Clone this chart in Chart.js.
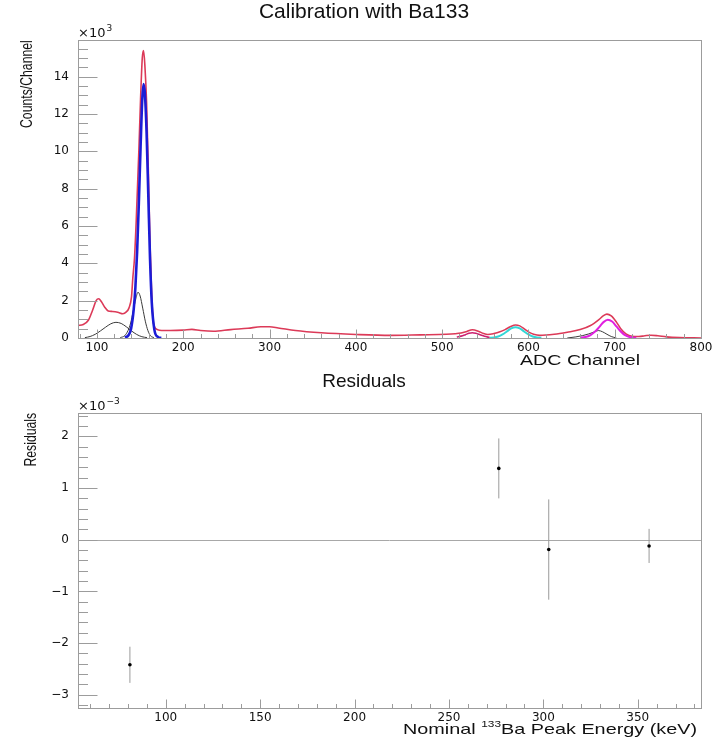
<!DOCTYPE html>
<html><head><meta charset="utf-8">
<script src="https://cdn.jsdelivr.net/npm/chart.js@4/dist/chart.umd.min.js"></script>
<style>
html,body{margin:0;padding:0;background:#fff;}
#wrap{position:relative;width:728px;height:742px;overflow:hidden;background:#fff;}
canvas{position:absolute;left:0;}
</style></head><body>
<div id="wrap">
<canvas id="top" width="728" height="372" style="top:0px"></canvas>
<canvas id="bot" width="728" height="376" style="top:366px"></canvas>
</div>
<script>
// ---------- DATA (counts in units of 10^3) ----------
const xTicksTop = [100, 200, 300, 400, 500, 600, 700, 800];
const yTicksTop = [0, 2, 4, 6, 8, 10, 12, 14];
const xTicksRes = [100, 150, 200, 250, 300, 350];
const yTicksRes = [-3, -2, -1, 0, 1, 2];

// measured spectrum (Counts/Channel, x10^3)
const specX = [78, 84, 90, 95, 99, 102, 105, 109, 113, 118, 124, 130, 134, 137, 140, 141.5, 143.5, 145.5, 148.5, 150.5, 152.5, 154, 155.5, 157.5, 159.5, 161.5, 163.5, 165.5, 170, 175, 185, 200, 210, 220, 235, 255, 275, 290, 300, 310, 330, 360, 400, 440, 475, 505, 515, 522, 528, 535, 542, 548, 553, 560, 567, 573, 579, 585, 590, 596, 601, 606, 613, 630, 645, 660, 672, 682, 687, 691, 696, 702, 707, 713, 720, 728, 735, 742, 750, 760, 775, 800];
const specY = [0.67, 0.72, 0.95, 1.5, 2.0, 2.1, 1.95, 1.65, 1.45, 1.42, 1.38, 1.3, 1.4, 1.6, 2.2, 3.2, 4.3, 6.3, 10.0, 12.8, 15.0, 15.4, 14.6, 12.6, 9.0, 5.0, 2.2, 0.8, 0.45, 0.4, 0.4, 0.42, 0.46, 0.4, 0.36, 0.45, 0.52, 0.6, 0.6, 0.54, 0.4, 0.28, 0.19, 0.14, 0.17, 0.2, 0.23, 0.27, 0.34, 0.44, 0.36, 0.24, 0.19, 0.24, 0.33, 0.45, 0.6, 0.7, 0.65, 0.46, 0.3, 0.2, 0.14, 0.2, 0.31, 0.45, 0.67, 1.0, 1.2, 1.28, 1.18, 0.85, 0.5, 0.22, 0.09, 0.08, 0.12, 0.15, 0.12, 0.06, 0.02, 0.0];

// fitted components
const broadX = [86, 92, 98, 104, 110, 116, 122, 128, 134, 140, 146, 152, 158];
const broadY = [0.02, 0.08, 0.2, 0.38, 0.58, 0.76, 0.84, 0.78, 0.6, 0.38, 0.19, 0.07, 0.02];
const narrowX = [127, 132, 136, 139, 142, 145, 147.5, 150, 153, 156, 159, 162, 166];
const narrowY = [0.02, 0.12, 0.4, 0.8, 1.45, 2.1, 2.45, 2.25, 1.6, 0.9, 0.4, 0.12, 0.02];
const mainX = [132.5, 136.5, 139.5, 142.5, 144.5, 146.5, 148.5, 150.5, 152.5, 154, 155.5, 157.5, 159.5, 161.5, 163.5, 166.5, 170.5, 174.5];
const mainY = [0.02, 0.15, 0.5, 1.5, 2.7, 4.6, 7.2, 10.2, 12.8, 13.6, 13.1, 11.0, 7.6, 4.2, 1.9, 0.45, 0.06, 0.0];
const p535X = [517, 522, 527, 531, 535, 539, 544, 549, 555];
const p535Y = [0.05, 0.1, 0.18, 0.25, 0.28, 0.25, 0.17, 0.09, 0.03];
const p585X = [555, 560, 565, 570, 575, 580, 585, 590, 595, 600, 605, 610, 615];
const p585Y = [0.01, 0.025, 0.08, 0.19, 0.35, 0.51, 0.58, 0.51, 0.35, 0.19, 0.08, 0.025, 0.01];
const p692X = [660, 666, 672, 677, 682, 687, 692, 697, 702, 707, 712, 718, 725];
const p692Y = [0.01, 0.05, 0.16, 0.33, 0.58, 0.85, 0.98, 0.88, 0.62, 0.35, 0.15, 0.04, 0.01];
const p681X = [645, 655, 663, 670, 676, 681, 686, 691, 696, 702];
const p681Y = [0.0, 0.06, 0.13, 0.22, 0.32, 0.4, 0.33, 0.2, 0.08, 0.0];

// residuals (x10^-3)
const resEnergy = [81.0, 276.4, 302.85, 356.0];
const resValue = [-2.42, 1.38, -0.19, -0.12];
const resError = [0.35, 0.58, 0.97, 0.33];

// ---------- helpers ----------
const FONT = '"Liberation Sans", Arial, Helvetica, sans-serif';
const TFONT = '"DejaVu Sans", Verdana, sans-serif';
const toPts = (xs, ys) => xs.map((x, i) => ({x: x, y: ys[i]}));
function tickValues(major, step, min, max) {
  const out = [], s = major[0];
  const n0 = Math.ceil((min - s) / step - 1e-9), n1 = Math.floor((max - s) / step + 1e-9);
  for (let n = n0; n <= n1; n++) out.push(+(s + n * step).toFixed(6));
  return out;
}
const isMajor = (major, v) => major.some(m => Math.abs(m - v) < 1e-6);
const fmt = v => (v < 0 ? '\u2212' + Math.abs(v) : String(v));

const rootFrame = {
  id: 'rootFrame',
  beforeDatasetsDraw(chart, args, o) {
    if (!o.zeroLine) return;
    const {ctx, chartArea: a, scales: {y}} = chart;
    const py = Math.round(y.getPixelForValue(0)) + 0.5;
    ctx.save(); ctx.strokeStyle = '#a8a8a8'; ctx.lineWidth = 1;
    ctx.beginPath(); ctx.moveTo(a.left, py); ctx.lineTo(a.right, py); ctx.stroke(); ctx.restore();
  },
  afterDraw(chart, args, o) {
    const {ctx, chartArea: a, scales: {x, y}} = chart;
    const L = Math.round(a.left) + 0.5, R = Math.round(a.right) + 0.5;
    const T = Math.round(a.top) + 0.5, B = Math.round(a.bottom) + 0.5;
    ctx.save();
    ctx.strokeStyle = '#9c9c9c'; ctx.lineWidth = 1;
    ctx.strokeRect(L, T, R - L, B - T);
    ctx.beginPath();
    for (const v of tickValues(o.xMajor, o.xMinorStep, x.min, x.max)) {
      const px = Math.round(x.getPixelForValue(v)) + 0.5;
      const len = isMajor(o.xMajor, v) ? o.xLen : o.xLen / 2;
      ctx.moveTo(px, B); ctx.lineTo(px, B - len);
    }
    for (const v of tickValues(o.yMajor, o.yMinorStep, y.min, y.max)) {
      const py = Math.round(y.getPixelForValue(v)) + 0.5;
      const len = isMajor(o.yMajor, v) ? o.yLen : o.yLen / 2;
      ctx.moveTo(L, py); ctx.lineTo(L + len, py);
    }
    ctx.stroke();
    ctx.fillStyle = '#111';
    // exponent label
    ctx.textAlign = 'left'; ctx.textBaseline = 'alphabetic';
    ctx.font = '13px ' + TFONT;
    ctx.fillText('\u00d710', a.left, a.top - 3);
    const w = ctx.measureText('\u00d710').width;
    ctx.font = '9px ' + TFONT;
    ctx.fillText(o.exponent, a.left + w + 1, a.top - 9);
    // y title (condensed, rotated, top aligned)
    ctx.save();
    ctx.translate(o.yTitleX, a.top);
    ctx.rotate(-Math.PI / 2);
    ctx.scale(0.72, 1);
    ctx.font = '17px ' + FONT;
    ctx.textAlign = 'right'; ctx.textBaseline = 'middle';
    ctx.fillText(o.yTitle, 0, 0);
    ctx.restore();
    // x title (right aligned, widened to the reference width)
    let total = 0;
    for (const p of o.xTitle) { ctx.font = p.size + 'px ' + FONT; total += ctx.measureText(p.text).width; }
    const st = o.xTitleWidth / total;
    ctx.save();
    ctx.translate(a.right - o.xTitleInset - o.xTitleWidth, o.xTitleY);
    ctx.scale(st, 1);
    ctx.textAlign = 'left'; ctx.textBaseline = 'middle';
    let cx = 0;
    for (const p of o.xTitle) {
      ctx.font = p.size + 'px ' + FONT;
      ctx.fillText(p.text, cx, -(p.rise || 0));
      cx += ctx.measureText(p.text).width;
    }
    ctx.restore();
    ctx.restore();
  }
};

function lineDs(label, xs, ys, color, width, order) {
  return {label, data: toPts(xs, ys), showLine: true, borderColor: color, borderWidth: width,
          pointRadius: 0, fill: false, cubicInterpolationMode: 'monotone', order: order};
}

const tickFont = {family: TFONT, size: 12};

function axisX(min, max, ticks, h) {
  return {type: 'linear', min, max, position: 'bottom',
    grid: {display: false, drawTicks: false}, border: {display: false},
    afterBuildTicks: s => { s.ticks = ticks.map(v => ({value: v})); },
    afterFit: s => { s.height = h; },
    ticks: {color: '#111', font: tickFont, padding: 3, maxRotation: 0, autoSkip: false, callback: v => fmt(v)}};
}
function axisY(min, max, ticks) {
  return {type: 'linear', min, max, position: 'left',
    grid: {display: false, drawTicks: false}, border: {display: false},
    afterBuildTicks: s => { s.ticks = ticks.map(v => ({value: v})); },
    afterFit: s => { s.width = 78; },
    ticks: {color: '#111', font: tickFont, padding: 9, autoSkip: false, callback: v => fmt(v)}};
}
const rightPad = {type: 'linear', position: 'right', display: true,
  grid: {display: false, drawTicks: false}, border: {display: false},
  ticks: {display: false}, afterBuildTicks: s => { s.ticks = []; }, afterFit: s => { s.width = 27; }};

new Chart(document.getElementById('top'), {
  type: 'scatter',
  data: {datasets: [
    lineDs('Ba133 spectrum', specX, specY, '#dc3a58', 1.6, 10),
    lineDs('Peak ~122', broadX, broadY, '#3a3a3a', 1, 2),
    lineDs('Peak ~148', narrowX, narrowY, '#3a3a3a', 1, 2),
    lineDs('Peak ~154', mainX, mainY, '#1c1cd6', 2.6, 1),
    lineDs('Peak ~535', p535X, p535Y, '#cc2070', 1.6, 1),
    lineDs('Peak ~585', p585X, p585Y, '#33d6d6', 2, 1),
    lineDs('Peak ~681', p681X, p681Y, '#3a3a3a', 1, 2),
    lineDs('Peak ~692', p692X, p692Y, '#e020e0', 2, 1)
  ]},
  options: {
    responsive: false, animation: false, events: [],
    layout: {padding: 0},
    scales: {x: axisX(78, 800, xTicksTop, 34), y: axisY(0, 15.95, yTicksTop), yr: rightPad},
    plugins: {
      legend: {display: false}, tooltip: {enabled: false},
      title: {display: true, text: 'Calibration with Ba133', color: '#111',
              font: {family: FONT, size: 21, weight: 'normal', lineHeight: 1.2}, padding: {top: 0, bottom: 15}},
      rootFrame: {xMajor: xTicksTop, xMinorStep: 20, yMajor: yTicksTop, yMinorStep: 0.5, xLen: 9, yLen: 19,
                  exponent: '3', yTitle: 'Counts/Channel', yTitleX: 27,
                  xTitle: [{text: 'ADC Channel', size: 15}], xTitleWidth: 120, xTitleInset: 61, xTitleY: 361, zeroLine: false}
    }
  },
  plugins: [rootFrame]
});

const errPts = [];
resEnergy.forEach((e, i) => {
  errPts.push({x: e, y: resValue[i] - resError[i]}, {x: e, y: resValue[i] + resError[i]}, {x: e, y: null});
});

new Chart(document.getElementById('bot'), {
  type: 'scatter',
  data: {datasets: [
    {label: 'Residual error', data: errPts, showLine: true, spanGaps: false, borderColor: '#9a9a9a', borderWidth: 1,
     pointRadius: 0, tension: 0, order: 2},
    {label: 'Residuals', data: toPts(resEnergy, resValue), showLine: false, pointRadius: 1.8,
     pointBackgroundColor: '#000', pointBorderWidth: 0, order: 1}
  ]},
  options: {
    responsive: false, animation: false, events: [],
    layout: {padding: 0},
    scales: {x: axisX(53.5, 383.5, xTicksRes, 34), y: axisY(-3.256, 2.456, yTicksRes), yr: rightPad},
    plugins: {
      legend: {display: false}, tooltip: {enabled: false},
      title: {display: true, text: 'Residuals', color: '#111',
              font: {family: FONT, size: 19, weight: 'normal', lineHeight: 1.2}, padding: {top: 4, bottom: 20}},
      rootFrame: {xMajor: xTicksRes, xMinorStep: 10, yMajor: yTicksRes, yMinorStep: 0.2, xLen: 9, yLen: 19,
                  exponent: '\u22123', yTitle: 'Residuals', yTitleX: 31,
                  xTitle: [{text: 'Nominal ', size: 15}, {text: '133', size: 9, rise: 5}, {text: 'Ba Peak Energy (keV)', size: 15}],
                  xTitleWidth: 294, xTitleInset: 4, xTitleY: 364, zeroLine: true}
    }
  },
  plugins: [rootFrame]
});
</script>
</body></html>
